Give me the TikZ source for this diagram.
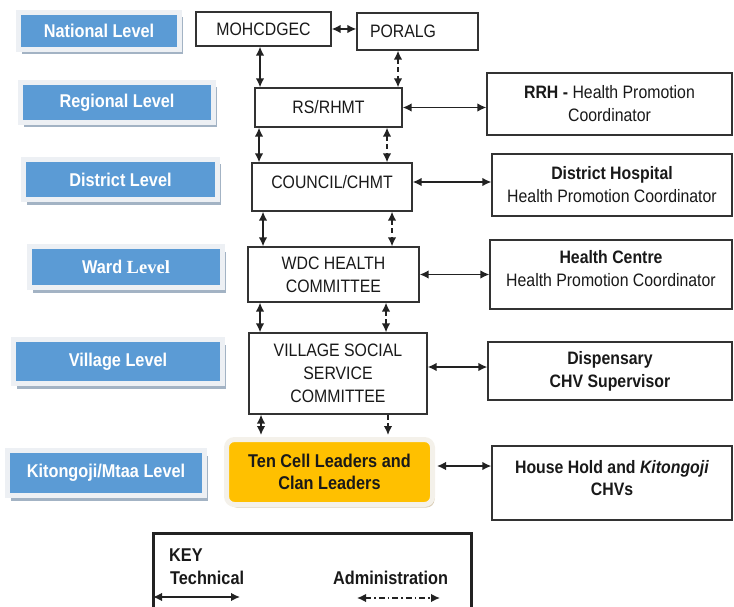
\documentclass[tikz,border=0pt]{standalone}
\usepackage{fontspec}
\setmainfont{Liberation Sans}[FakeStretch=0.88]
\newfontfamily\timesfam{Liberation Serif}
\usetikzlibrary{arrows.meta,shadows,calc}
\definecolor{lblue}{HTML}{5B9BD5}
\definecolor{framec}{HTML}{EDF0F4}
\definecolor{shadc}{HTML}{A3B3C4}
\definecolor{gold}{HTML}{FFC000}
\definecolor{goldframe}{HTML}{F4F1EA}
\definecolor{goldshad}{HTML}{D9CDB5}
\definecolor{boxc}{HTML}{333333}
\definecolor{arrc}{HTML}{222222}
\newcommand{\mainsz}{\fontsize{18}{23}\selectfont}
\newcommand{\lvlsz}{\fontsize{18.5}{22}\selectfont\bfseries}
\begin{document}
\begin{tikzpicture}[x=1pt,y=-1pt,
  lvl/.style={draw=framec, line width=5pt, fill=lblue, text=white, font=\lvlsz,
    inner sep=0pt, drop shadow={shadow xshift=3pt,shadow yshift=-5pt,fill=shadc,opacity=1}},
  box/.style={draw=boxc, line width=1.3pt, fill=white, align=center, inner sep=0pt, font=\mainsz, text=black!90},
  tip/.tip={Latex[length=9pt,width=8.5pt]},
  tech/.style={draw=arrc, line width=1.5pt, tip-tip},
  admin/.style={draw=arrc, line width=1.5pt, dash pattern=on 5pt off 3.5pt, tip-tip},
  admindown/.style={draw=arrc, line width=1.5pt, dash pattern=on 5pt off 3.5pt, -tip},
  admindot/.style={draw=arrc, line width=1.5pt, dash pattern=on 6pt off 3pt on 1.5pt off 3pt, tip-tip},
  keytext/.style={font=\fontsize{18.5}{22}\selectfont\bfseries, text=black!90, inner sep=0pt, anchor=base west}
]
\useasboundingbox (0,0) rectangle (734,607);
\clip (0,0) rectangle (734,607);

% level labels
\node[lvl, minimum width=161, minimum height=37] (natl) at (99,31) {National Level};
\node[lvl, minimum width=193, minimum height=40] (regl) at (117,102.5) {Regional Level};
\node[lvl, minimum width=194, minimum height=40] (distl) at (120.5,179.5) {District Level};
\node[lvl, minimum width=193, minimum height=41] (wardl) at (126,267) {Ward {\timesfam\bfseries Level}};
\node[lvl, minimum width=209, minimum height=44] (vill) at (118,361.5) {Village Level};
\node[lvl, minimum width=197, minimum height=45] (kitl) at (106,473) {Kitongoji/Mtaa Level};

% central column
\node[box, minimum width=135, minimum height=34] (moh) at (263.5,29) {MOHCDGEC};
\node[box, minimum width=121, minimum height=37, text width=95, align=left] (por) at (417.5,31.5) {PORALG};
\node[box, minimum width=147, minimum height=39] (rs) at (328.5,107.5) {RS/RHMT};
\node[box, minimum width=160, minimum height=48, text depth=10pt] (council) at (332,187) {COUNCIL/CHMT};
\node[box, minimum width=171, minimum height=55] (wdc) at (333.5,274.5) {WDC HEALTH\\COMMITTEE};
\node[box, minimum width=178, minimum height=81] (vil) at (338,373.5) {VILLAGE SOCIAL\\SERVICE\\COMMITTEE};
\node[draw=goldframe, line width=5pt, fill=gold, rounded corners=8pt, inner sep=0pt,
  minimum width=206, minimum height=65, align=center, font=\lvlsz, text=black!90,
  drop shadow={shadow xshift=2pt,shadow yshift=-3pt,fill=goldshad,opacity=1}] (ten) at (329.5,472)
  {Ten Cell Leaders and\\Clan Leaders};

% right column
\node[box, minimum width=245, minimum height=62] (rrh) at (609.5,104) {\textbf{RRH -} Health Promotion\\Coordinator};
\node[box, minimum width=240, minimum height=62] (dh) at (612,185) {\textbf{District Hospital}\\Health Promotion Coordinator};
\node[box, minimum width=242, minimum height=69, text depth=12pt] (hc) at (611,274.5) {\textbf{Health Centre}\\Health Promotion Coordinator};
\node[box, minimum width=244, minimum height=58] (disp) at (610,371) {\textbf{Dispensary}\\\textbf{CHV Supervisor}};
\node[box, minimum width=240, minimum height=74, text depth=10pt] (hh) at (612,483) {\textbf{House Hold and \textit{Kitongoji}}\\[-1pt]\textbf{CHVs}};

% key
\node[draw=arrc, line width=3pt, minimum width=318, minimum height=120, anchor=north west, inner sep=0pt] (key) at (152,532) {};
\node[keytext] (keyt) at (169,561) {KEY};
\node[keytext] (techt) at (170,584) {Technical};
\node[keytext] (admt) at (333,584) {Administration};
\coordinate (t1) at (153,597);
\coordinate (t2) at (240,597);
\coordinate (a1) at (357,598);
\coordinate (a2) at (440,598);
\draw[tech] (t1) -- (t2);
\draw[admindot] (a1) -- (a2);

% x positions for vertical connectors
\coordinate (x260) at (260,0);
\coordinate (x398) at (398,0);
\coordinate (x259) at (259,0);
\coordinate (x387) at (387,0);
\coordinate (x263) at (263,0);
\coordinate (x392) at (392,0);
\coordinate (x386) at (386,0);
\coordinate (x261) at (261,0);
\coordinate (x388) at (388,0);
% start points for horizontal connectors
\coordinate (cE) at ([yshift=5pt]council.east);
\coordinate (vE) at ([yshift=6.5pt]vil.east);
\coordinate (tE) at ([yshift=6pt,xshift=2pt]ten.east);

% connectors
\draw[tech] (moh.east) -- (por.west |- moh.east);
\draw[tech] (moh.south -| x260) -- (rs.north -| x260);
\draw[admin] (por.south -| x398) -- (rs.north -| x398);
\draw[tech] (rs.south -| x259) -- (council.north -| x259);
\draw[admin] (rs.south -| x387) -- (council.north -| x387);
\draw[tech] (council.south -| x263) -- (wdc.north -| x263);
\draw[admin] (council.south -| x392) -- (wdc.north -| x392);
\draw[tech] (wdc.south -| x260) -- (vil.north -| x260);
\draw[admin] (wdc.south -| x386) -- (vil.north -| x386);
\draw[tech, shorten >=2pt] (vil.south -| x261) -- (ten.north -| x261);
\draw[admindown, shorten >=2pt] (vil.south -| x388) -- (ten.north -| x388);

\draw[tech] (rs.east) -- (rrh.west |- rs.east);
\draw[tech] (cE) -- (dh.west |- cE);
\draw[tech] (wdc.east) -- (hc.west |- wdc.east);
\draw[tech] (vE) -- (disp.west |- vE);
\draw[tech] (tE) -- (hh.west |- tE);
\end{tikzpicture}
\end{document}
